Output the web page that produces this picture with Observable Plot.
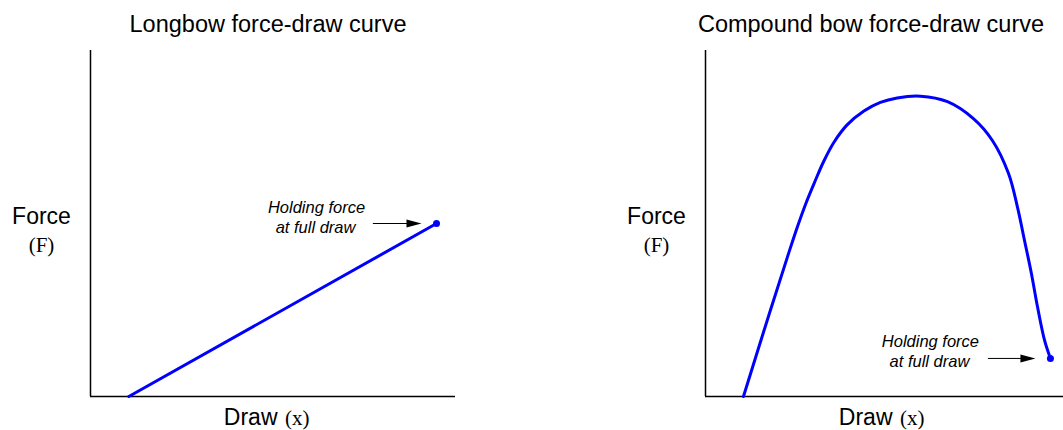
<!DOCTYPE html>
<html>
<head>
<meta charset="utf-8">
<script src="https://cdn.jsdelivr.net/npm/d3@7"></script>
<script src="https://cdn.jsdelivr.net/npm/@observablehq/plot@0.6"></script>
<style>
  html, body { margin: 0; padding: 0; background: #fff; overflow: hidden; }
  #wrap { display: flex; width: 1070px; height: 430px; }
  #wrap svg { display: block; }
</style>
</head>
<body>
<div id="wrap"><div id="left"></div><div id="right"></div></div>
<script>
// ---- data ----
const titles = ["Longbow force-draw curve", "Compound bow force-draw curve"];
const axisXLabel = "Draw";
const axisXSymbol = "(x)";
const axisYLabel = "Force";
const axisYSymbol = "(F)";
const annotationLines = ["Holding force", "at full draw"];

const longbowDraw = [1.05, 9.48];
const longbowForce = [0, 5.0];

const compoundDraw  = [1.04, 1.75, 2.25, 2.50, 2.75, 3.00, 3.24, 3.52, 3.88, 4.34, 4.79, 5.25, 5.89, 6.63, 7.34, 7.86, 8.30, 8.55, 8.74, 8.93, 9.10, 9.29, 9.45];
const compoundForce = [0.00, 2.40, 4.05, 4.85, 5.58, 6.22, 6.80, 7.35, 7.85, 8.25, 8.50, 8.63, 8.68, 8.52, 8.03, 7.40, 6.45, 5.46, 4.51, 3.55, 2.57, 1.62, 1.10];

const arrowTailDraw = 7.75;
const drawDomain = [0, 10];
const forceDomain = [0, 10];

// ---- helpers ----
const SANS = "'Liberation Sans', Arial, Helvetica, sans-serif";
const SERIF = "'Liberation Serif', 'Times New Roman', serif";
const BLUE = "#0000ff";

const arrowHead = {
  draw(ctx) {
    ctx.moveTo(0, 0);
    ctx.lineTo(-15, -4);
    ctx.lineTo(-15, 4);
    ctx.closePath();
  }
};

function panel(draws, forces, title, opts) {
  const pts = draws.map((d, i) => ({draw: d, force: forces[i]}));
  const hold = [pts[pts.length - 1]];
  return Plot.plot({
    width: opts.width,
    height: 430,
    marginLeft: opts.marginLeft,
    marginRight: opts.marginRight,
    marginTop: 50,
    marginBottom: 34,
    x: {domain: drawDomain, axis: null},
    y: {domain: forceDomain, axis: null},
    marks: [
      Plot.ruleX([0], {y1: forceDomain[0], y2: forceDomain[1], stroke: "black", strokeWidth: 1.5}),
      Plot.ruleY([0], {x1: drawDomain[0], x2: opts.axisEnd, stroke: "black", strokeWidth: 1.5}),
      Plot.line(pts, {x: "draw", y: "force", stroke: BLUE, strokeWidth: 3, curve: opts.curve}),
      Plot.dot(hold, {x: "draw", y: "force", r: 3.5, fill: BLUE, stroke: "none"}),
      Plot.ruleY(hold, {y: "force", x1: () => arrowTailDraw, x2: "draw", insetRight: 25, stroke: "black", strokeWidth: 1}),
      Plot.dot(hold, {x: "draw", y: "force", symbol: arrowHead, r: 4, fill: "black", stroke: "none", dx: -15}),
      Plot.text(hold, {x: "draw", y: "force", text: () => annotationLines[0], dx: -120, dy: -11, lineAnchor: "bottom", textAnchor: "middle", fontStyle: "italic", fontSize: 16.5, fontFamily: SANS, fill: "black"}),
      Plot.text(hold, {x: "draw", y: "force", text: () => annotationLines[1], dx: -121, dy: 9, lineAnchor: "bottom", textAnchor: "middle", fontStyle: "italic", fontSize: 16.5, fontFamily: SANS, fill: "black"}),
      Plot.text([title], {frameAnchor: "top", dx: opts.titleDx, dy: -19, lineAnchor: "bottom", textAnchor: "middle", fontSize: 23.5, fontFamily: SANS, fill: "black"}),
      Plot.text([axisYLabel], {frameAnchor: "left", dx: -49, dy: 0, lineAnchor: "bottom", textAnchor: "middle", fontSize: 23, fontFamily: SANS, fill: "black"}),
      Plot.text([axisYSymbol], {frameAnchor: "left", dx: -49, dy: 28, lineAnchor: "bottom", textAnchor: "middle", fontSize: 21, fontFamily: SERIF, fill: "black"}),
      Plot.text([axisXLabel], {frameAnchor: "bottom", dx: 4.5, dy: 28, lineAnchor: "bottom", textAnchor: "end", fontSize: 23, fontFamily: SANS, fill: "black"}),
      Plot.text([axisXSymbol], {frameAnchor: "bottom", dx: 12, dy: 28, lineAnchor: "bottom", textAnchor: "start", fontSize: 21, fontFamily: SERIF, fill: "black"})
    ]
  });
}

document.getElementById("left").append(
  panel(longbowDraw, longbowForce, titles[0], {width: 530, marginLeft: 90, marginRight: 75, axisEnd: 10, curve: "linear", titleDx: -5})
);
document.getElementById("right").append(
  panel(compoundDraw, compoundForce, titles[1], {width: 540, marginLeft: 175, marginRight: 0, axisEnd: 10, curve: "catmull-rom", titleDx: -17})
);
</script>
</body>
</html>
